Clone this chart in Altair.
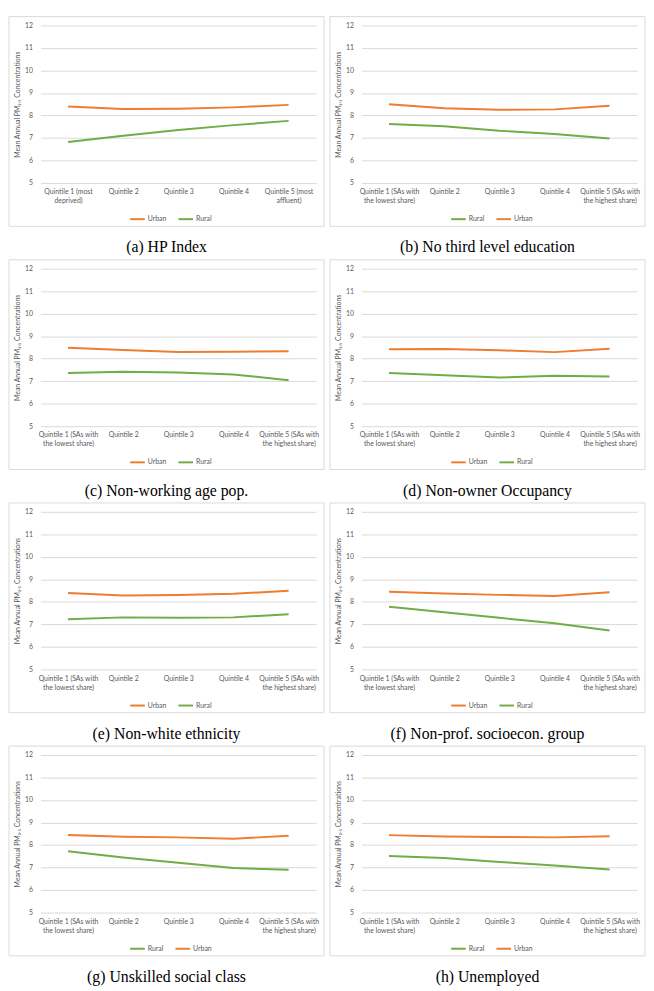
import altair as alt
import pandas as pd

# ---- categories ----
q_hp = ["Quintile 1 (most|deprived)", "Quintile 2", "Quintile 3", "Quintile 4",
        "Quintile 5 (most|affluent)"]
q_share = ["Quintile 1 (SAs with|the lowest share)", "Quintile 2", "Quintile 3",
           "Quintile 4", "Quintile 5 (SAs with|the highest share)"]

captions = ["(a) HP Index", "(b) No third level education", "(c) Non-working age pop.",
            "(d) Non-owner Occupancy", "(e) Non-white ethnicity",
            "(f) Non-prof. socioecon. group", "(g) Unskilled social class", "(h) Unemployed"]

# ---- series values (mean annual PM2.5) ----
urban_a = [8.40, 8.29, 8.30, 8.36, 8.47]
rural_a = [6.82, 7.10, 7.35, 7.57, 7.76]
urban_b = [8.50, 8.32, 8.25, 8.27, 8.43]
rural_b = [7.62, 7.52, 7.32, 7.18, 6.98]
urban_c = [8.48, 8.38, 8.30, 8.31, 8.33]
rural_c = [7.36, 7.42, 7.38, 7.30, 7.04]
urban_d = [8.42, 8.43, 8.37, 8.29, 8.44]
rural_d = [7.36, 7.26, 7.16, 7.24, 7.21]
urban_e = [8.39, 8.28, 8.30, 8.36, 8.49]
rural_e = [7.23, 7.31, 7.29, 7.31, 7.45]
urban_f = [8.45, 8.37, 8.31, 8.26, 8.43]
rural_f = [7.78, 7.54, 7.29, 7.05, 6.73]
urban_g = [8.45, 8.37, 8.34, 8.28, 8.41]
rural_g = [7.72, 7.45, 7.21, 6.98, 6.90]
urban_h = [8.44, 8.38, 8.36, 8.34, 8.39]
rural_h = [7.51, 7.42, 7.25, 7.09, 6.91]

legend_a = ["Urban", "Rural"]
legend_b = ["Rural", "Urban"]
legend_c = ["Urban", "Rural"]
legend_d = ["Urban", "Rural"]
legend_e = ["Urban", "Rural"]
legend_f = ["Urban", "Rural"]
legend_g = ["Rural", "Urban"]
legend_h = ["Rural", "Urban"]

COLORS = {"Urban": "#ED7D31", "Rural": "#70AD47"}
PW, PH = 280, 160
TXT = "#595959"
FONT = "Lato"


def panel(cats, urban, rural, order, caption):
    df = pd.DataFrame({
        "quintile": cats * 2,
        "series": ["Urban"] * 5 + ["Rural"] * 5,
        "value": urban + rural,
    })
    frame = alt.Chart(pd.DataFrame({"f": [0]})).mark_rect(
        fillOpacity=0, stroke="#D9D9D9", strokeWidth=1
    ).encode(
        x=alt.value(-32), x2=alt.value(PW + 8),
        y=alt.value(-9), y2=alt.value(PH + 44),
    )
    lines = alt.Chart(df).mark_line(strokeWidth=2).encode(
        x=alt.X("quintile:N", sort=cats,
                scale=alt.Scale(type="point", padding=0.5),
                axis=alt.Axis(title=None, labelAngle=0, labelExpr="split(datum.label, '|')",
                              labelFont=FONT, labelFontSize=7, labelColor=TXT,
                              labelLineHeight=9, labelPadding=5, labelOverlap=False,
                              labelBound=False, labelLimit=200, labelFlush=False,
                              labelAlign="center",
                              domain=False, ticks=False, grid=False)),
        y=alt.Y("value:Q", scale=alt.Scale(domain=[5, 12], nice=False, zero=False),
                axis=alt.Axis(values=list(range(5, 13)),
                              title="Mean Annual PM₂.₅ Concentrations",
                              titleFont=FONT, titleFontSize=7, titleColor=TXT,
                              titleFontWeight="normal", titlePadding=4,
                              labelFont=FONT, labelFontSize=7, labelColor=TXT,
                              labelPadding=8, domain=False, ticks=False,
                              grid=True, gridColor="#D9D9D9", gridWidth=1)),
        color=alt.Color("series:N",
                        scale=alt.Scale(domain=order, range=[COLORS[s] for s in order]),
                        legend=alt.Legend(orient="none", legendX=90, legendY=PH + 28,
                                          direction="horizontal", title=None,
                                          symbolType="stroke", symbolStrokeWidth=2,
                                          symbolSize=220, labelFont=FONT, labelFontSize=7,
                                          labelColor=TXT, labelOffset=2, columnPadding=8)),
    )
    return alt.layer(frame, lines).properties(
        width=PW, height=PH,
        title=alt.TitleParams(caption, orient="bottom", anchor="middle", frame="bounds",
                              font="Liberation Serif", fontSize=16, fontWeight="normal",
                              color="#000000", offset=13),
    )


panels = [
    panel(q_hp, urban_a, rural_a, legend_a, captions[0]),
    panel(q_share, urban_b, rural_b, legend_b, captions[1]),
    panel(q_share, urban_c, rural_c, legend_c, captions[2]),
    panel(q_share, urban_d, rural_d, legend_d, captions[3]),
    panel(q_share, urban_e, rural_e, legend_e, captions[4]),
    panel(q_share, urban_f, rural_f, legend_f, captions[5]),
    panel(q_share, urban_g, rural_g, legend_g, captions[6]),
    panel(q_share, urban_h, rural_h, legend_h, captions[7]),
]

rows = [
    alt.hconcat(panels[i], panels[i + 1], spacing=4)
    .resolve_scale(color="independent").resolve_legend(color="independent")
    for i in range(0, 8, 2)
]
chart = (
    alt.vconcat(*rows, spacing=3)
    .resolve_scale(color="independent")
    .resolve_legend(color="independent")
    .properties(padding=0)
    .configure_view(strokeWidth=0)
)

chart.save("out.html", embed_options={"renderer": "svg", "actions": False})
